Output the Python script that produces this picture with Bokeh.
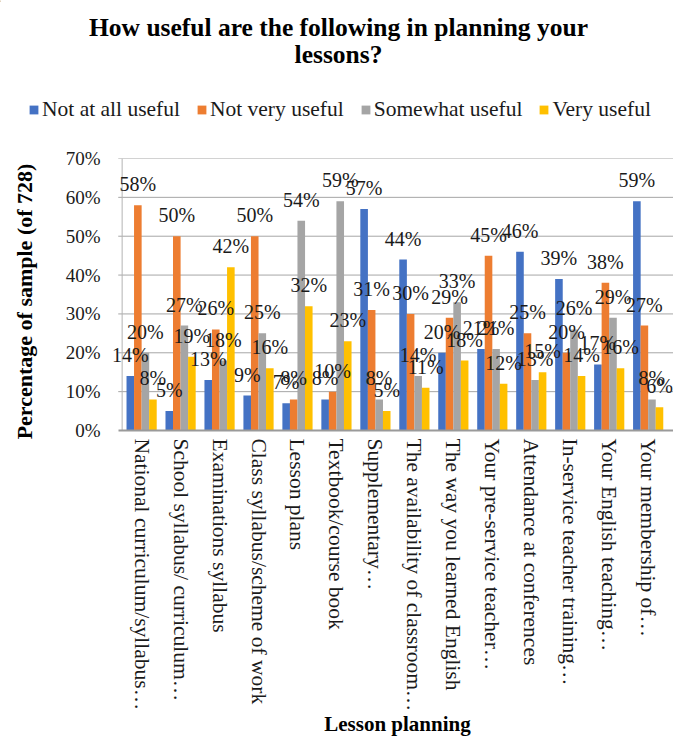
import math

from bokeh.plotting import figure
from bokeh.layouts import column, row
from bokeh.models import (ColumnDataSource, Range1d, FixedTicker, PrintfTickFormatter,
                          Legend, LegendItem, Label)
from bokeh.transform import dodge
from bokeh.core.properties import value
from bokeh.embed import file_html
from bokeh.resources import INLINE

# Survey: usefulness of resources for lesson planning (share of 728 respondents, %)
categories = [
    "National curriculum/syllabus…",
    "School syllabus/ curriculum…",
    "Examinations syllabus",
    "Class syllabus/scheme of work",
    "Lesson plans",
    "Textbook/course book",
    "Supplementary…",
    "The availability of classroom…",
    "The way you learned English",
    "Your pre-service teacher…",
    "Attendance at conferences",
    "In-service teacher training…",
    "Your English teaching…",
    "Your membership of…",
]
series_names = ["Not at all useful", "Not very useful", "Somewhat useful", "Very useful"]
not_at_all_useful = [14, 5, 13, 9, 7, 8, 57, 44, 20, 21, 46, 39, 17, 59]
not_very_useful = [58, 50, 26, 50, 8, 10, 31, 30, 29, 45, 25, 20, 38, 27]
somewhat_useful = [20, 27, 18, 25, 54, 59, 8, 14, 33, 21, 13, 26, 29, 8]
very_useful = [8, 19, 42, 16, 32, 23, 5, 11, 18, 12, 15, 14, 16, 6]
y_ticks = [0, 10, 20, 30, 40, 50, 60, 70]

title_lines = ["How useful are the following in planning your", "lessons?"]
x_title = "Lesson planning"
y_title = "Percentage of sample (of 728)"

colors = ["#4472C4", "#ED7D31", "#A5A5A5", "#FFC000"]
offsets = [-0.29, -0.097, 0.097, 0.29]
bar_width = 0.195
FONT = "Liberation Serif"
TXT = "#1a1a1a"
W, H = 673, 736
HEAD_H, SIDE_W = 146, 40
FOOT_H, FOOT_OVERLAP = 34, 12          # footer tucks under the empty bottom strip of the chart
BODY_H = H - HEAD_H - FOOT_H + FOOT_OVERLAP

n = len(categories)
X_START, X_END = -0.35, n + 0.15       # room for the outermost value labels
centers = [i + 0.5 for i in range(n)]
all_series = [not_at_all_useful, not_very_useful, somewhat_useful, very_useful]


def blank(width, height):
    """A figure without axes whose data units are pixels from its top-left corner."""
    f = figure(width=width, height=height, x_range=Range1d(0, width), y_range=Range1d(height, 0),
               x_axis_type=None, y_axis_type=None, output_backend="svg",
               toolbar_location=None, min_border=0)
    f.outline_line_color = None
    f.grid.visible = False
    f.frame_align = False
    return f


# ---------------- header: title + legend ----------------
head = blank(W, HEAD_H)
for txt, yy in zip(title_lines, [26.5, 53.5]):
    head.add_layout(Label(x=338, y=yy, text=txt, text_align="center", text_baseline="alphabetic",
                          text_font=FONT, text_font_style="bold", text_font_size="25.5px",
                          text_color="#000000"))

# off-canvas swatches feeding the legend
swatch = ColumnDataSource(dict(x=[-1000], top=[1]))
items = []
for name, color in zip(series_names, colors):
    r = head.vbar(x="x", top="top", width=1, source=swatch, fill_color=color, line_color=None)
    items.append(LegendItem(label=name, renderers=[r]))
legend = Legend(items=items, orientation="horizontal", location=(28, 24),
                glyph_width=11, glyph_height=11, label_standoff=3, spacing=16,
                padding=0, margin=0, border_line_color=None, background_fill_alpha=0,
                label_text_font=FONT, label_text_font_size="21.5px", label_text_color=TXT)
head.add_layout(legend)

# ---------------- side: value axis title ----------------
side = blank(SIDE_W, BODY_H)
side.add_layout(Label(x=24, y=155, text=y_title, angle=math.pi / 2,
                      text_align="center", text_baseline="middle",
                      text_font=FONT, text_font_style="bold", text_font_size="22px",
                      text_color="#000000"))

# ---------------- main bar chart ----------------
p = figure(
    width=W - SIDE_W, height=BODY_H,
    x_range=Range1d(X_START, X_END), y_range=Range1d(0, 70),
    output_backend="svg", toolbar_location=None,
    min_border_left=108 - SIDE_W, min_border_right=0,
    min_border_top=12, min_border_bottom=283,
)
p.frame_align = False
p.outline_line_color = None
p.xgrid.grid_line_color = None
p.ygrid.grid_line_color = None

# horizontal gridlines (with a short tick outside the value axis) and the value axis line
p.segment(x0=-0.1, x1=X_END, y0=y_ticks[1:], y1=y_ticks[1:], line_color="#a6a6a6", line_width=1)
p.segment(x0=0, x1=0, y0=0, y1=y_ticks[-1], line_color="#b3b3b3", line_width=1)

data = {"x": centers}
for name, vals in zip(series_names, all_series):
    key = name.replace(" ", "_")
    data[key] = vals
    data[key + "_lbl"] = [f"{v}%" for v in vals]
source = ColumnDataSource(data)

for name, color, off in zip(series_names, colors, offsets):
    key = name.replace(" ", "_")
    p.vbar(x=dodge("x", off), top=key, width=bar_width, source=source,
           fill_color=color, line_color=None)
for name, off in zip(series_names, offsets):
    key = name.replace(" ", "_")
    p.text(x=dodge("x", off), y=key, text=key + "_lbl", source=source,
           text_align="center", text_baseline="alphabetic", y_offset=-21,
           text_font=value(FONT), text_font_size="20px", text_color=TXT)

# axes
p.yaxis.ticker = FixedTicker(ticks=y_ticks)
p.yaxis.formatter = PrintfTickFormatter(format="%d%%")
p.yaxis.axis_line_color = None
p.yaxis.major_label_standoff = 8
p.yaxis.major_label_text_font_size = "19px"

p.xaxis.ticker = FixedTicker(ticks=centers)
p.xaxis.major_label_overrides = {c: lab for c, lab in zip(centers, categories)}
p.xaxis.bounds = (-0.1, X_END)
p.xaxis.axis_line_color = "#9a9a9a"
p.xaxis.axis_line_width = 2
p.xaxis.major_label_orientation = "vertical"
p.xaxis.major_label_standoff = 8
p.xaxis.major_label_text_font_size = "21.5px"

for ax in (p.xaxis, p.yaxis):
    ax.major_label_text_font = FONT
    ax.major_label_text_color = TXT
    ax.major_tick_line_color = None
    ax.minor_tick_line_color = None
    ax.major_tick_out = 0
    ax.minor_tick_out = 0
    ax.major_tick_in = 0
    ax.minor_tick_in = 0

# ---------------- footer: category axis title ----------------
foot = blank(W, FOOT_H)
foot.margin = (-FOOT_OVERLAP, 0, 0, 0)
foot.background_fill_alpha = 0
foot.border_fill_alpha = 0
foot.add_layout(Label(x=397, y=21, text=x_title, text_align="center", text_baseline="alphabetic",
                      text_font=FONT, text_font_style="bold", text_font_size="21px",
                      text_color="#000000"))

layout = column(head, row(side, p, spacing=0), foot, spacing=0)
open("out.html", "w").write(file_html(layout, INLINE))
